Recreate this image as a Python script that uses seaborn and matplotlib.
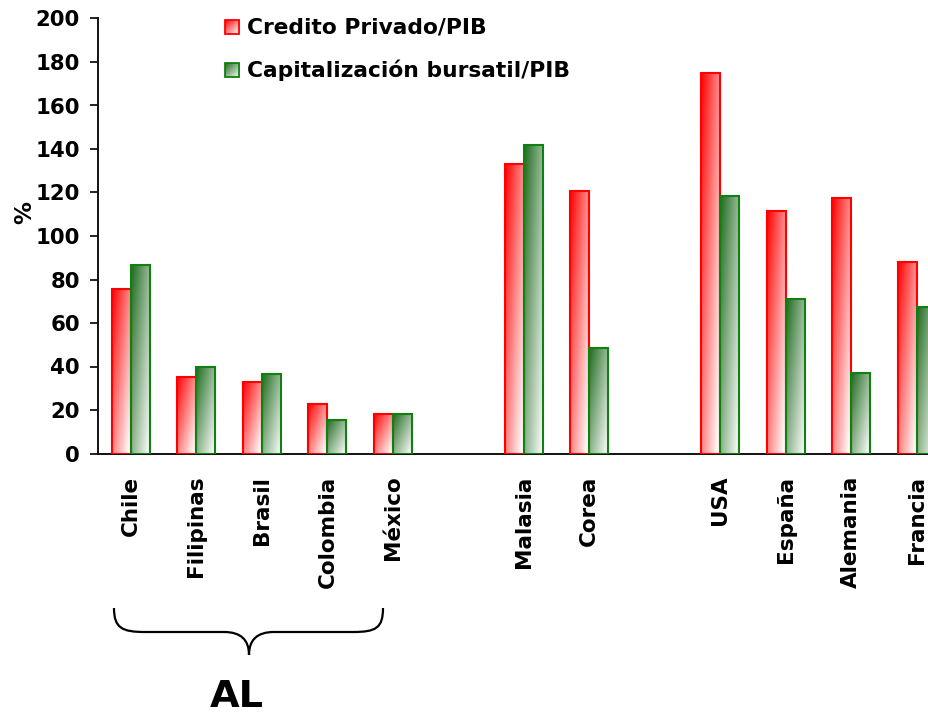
import numpy as np
import pandas as pd
import matplotlib
matplotlib.use("Agg")
import matplotlib.pyplot as plt
import matplotlib.transforms as mtransforms
from matplotlib.path import Path
from matplotlib.patches import PathPatch, Rectangle
import seaborn as sns

countries = ["Chile", "Filipinas", "Brasil", "Colombia", "México",
             "Malasia", "Corea", "USA", "España", "Alemania", "Francia"]
positions = [0, 1, 2, 3, 4, 6, 7, 9, 10, 11, 12]
credito = [75.5, 35.3, 33.0, 22.9, 18.3, 133.0, 120.5, 175.0, 111.6, 117.6, 88.2]
capital = [86.5, 39.9, 36.6, 15.3, 18.3, 141.7, 48.4, 118.5, 71.2, 37.2, 67.5]
series = ["Credito Privado/PIB", "Capitalización bursatil/PIB"]
yticks = list(range(0, 201, 20))

sns.set_theme(style="white")
plt.rcParams['font.family'] = ['DejaVu Sans']
plt.rcParams['font.weight'] = 'bold'
plt.rcParams['text.color'] = 'black'
plt.rcParams['xtick.color'] = 'black'
plt.rcParams['ytick.color'] = 'black'
plt.rcParams['axes.labelcolor'] = 'black'

W, H = 929, 716
fig = plt.figure(figsize=(W / 100, H / 100), dpi=100)
ax = fig.add_axes([98 / W, 1 - 453.5 / H, (W - 98) / W, (453.5 - 18.5) / H])

df = pd.DataFrame({
    "pos": positions * 2,
    "val": credito + capital,
    "serie": [series[0]] * len(positions) + [series[1]] * len(positions),
})

edge_cols = ["#ff0000", "#108010"]
start_cols = [np.array([1.0, 0.0, 0.0]), np.array([0.12, 0.42, 0.12])]
end_cols = [np.array([1.0, 1.0, 1.0]), np.array([0.96, 0.97, 0.96])]

sns.barplot(data=df, x="pos", y="val", hue="serie", hue_order=series,
            native_scale=True, width=0.58, dodge=True, palette=edge_cols,
            legend=False, ax=ax, saturation=1, errorbar=None)


def grad_img(c0, c1, n=64):
    u = np.linspace(0, 1, n)[None, :]
    v = np.linspace(0, 1, n)[:, None]
    t = np.clip(0.55 * u + 0.5 * v, 0, 1)[..., None]
    return c0 * (1 - t) + c1 * t


for i, cont in enumerate(ax.containers):
    img = grad_img(start_cols[i], end_cols[i])
    for bar in cont:
        x0, y0 = bar.get_x(), bar.get_y()
        w, h = bar.get_width(), bar.get_height()
        bar.set_facecolor("none")
        bar.set_edgecolor(edge_cols[i])
        bar.set_linewidth(1.5)
        bar.set_zorder(3)
        im = ax.imshow(img, extent=[x0, x0 + w, y0, y0 + h], origin="upper",
                       aspect="auto", zorder=2, interpolation="bilinear")
        im.set_clip_path(bar)

ax.set_xlim(-0.504, 12.19)
ax.set_ylim(0, 200)
ax.set_yticks(yticks)
ax.set_yticklabels([str(v) for v in yticks], fontsize=15.3, fontweight="bold",
                   color="black")
ax.set_xticks(positions)
ax.set_xticklabels(countries, rotation=90, fontsize=15.5, fontweight="bold",
                   va="top", ha="center", color="black")
ax.tick_params(axis="x", length=0, pad=16)
ax.tick_params(axis="y", length=6, width=1.3, direction="out", pad=7,
               left=True, colors="#111111", labelcolor="black")
ax.set_xlabel("")
ax.set_ylabel("")
for s in ["top", "right"]:
    ax.spines[s].set_visible(False)
for s in ["left", "bottom"]:
    ax.spines[s].set_color("#111111")
    ax.spines[s].set_linewidth(1.4)

# legend drawn in data coords
leg_x0, leg_x1 = (225 - 131) / 65.45, (239 - 131) / 65.45
leg_rows = [(20.5, 34.5), (63, 77)]
for i, (top, bot) in enumerate(leg_rows):
    y_top = (453.5 - top) / 2.175
    y_bot = (453.5 - bot) / 2.175
    r = Rectangle((leg_x0, y_bot), leg_x1 - leg_x0, y_top - y_bot,
                  facecolor="none", edgecolor=edge_cols[i], lw=1.3,
                  clip_on=False, zorder=5)
    ax.add_patch(r)
    ax.imshow(grad_img(start_cols[i], end_cols[i]),
              extent=[leg_x0, leg_x1, y_bot, y_top], origin="upper",
              aspect="auto", zorder=4, clip_on=False)
    ax.text((247 - 131) / 65.45, (y_top + y_bot) / 2, series[i],
            fontsize=15.7, fontweight="bold", va="center", ha="left",
            color="black", clip_on=False)
ax.set_xlim(-0.504, 12.19)
ax.set_ylim(0, 200)

fig.text(25 / W, 1 - 213 / H, "%", rotation=90, fontsize=16.5,
         fontweight="bold", ha="center", va="center", color="black")

# brace under the AL group
px = mtransforms.Affine2D().scale(1 / W, -1 / H).translate(0, 1) + fig.transFigure
verts = [(114, 608), (114, 628), (122, 632), (145, 632),
         (224, 632),
         (241, 632), (249, 640), (249, 655),
         (249, 640), (257, 632), (274, 632),
         (353, 632),
         (376, 632), (383, 628), (383, 608)]
codes = [Path.MOVETO, Path.CURVE4, Path.CURVE4, Path.CURVE4,
         Path.LINETO,
         Path.CURVE4, Path.CURVE4, Path.CURVE4,
         Path.CURVE4, Path.CURVE4, Path.CURVE4,
         Path.LINETO,
         Path.CURVE4, Path.CURVE4, Path.CURVE4]
brace = PathPatch(Path(verts, codes), facecolor="none", edgecolor="black",
                  lw=1.6, transform=px)
fig.patches.append(brace)

fig.text(237 / W, 1 - 697 / H, "AL", fontsize=27.5, fontweight="bold",
         ha="center", va="center", color="black")

fig.savefig("out.png", dpi=100)
